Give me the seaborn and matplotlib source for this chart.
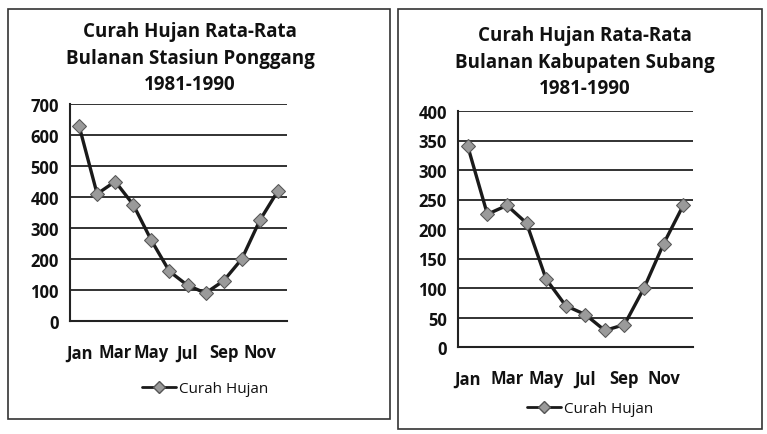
import pandas as pd
import matplotlib.pyplot as plt
import seaborn as sns
from matplotlib.patches import Rectangle
from matplotlib.lines import Line2D

bulan = ["Jan", "Feb", "Mar", "Apr", "May", "Jun",
         "Jul", "Aug", "Sep", "Oct", "Nov", "Dec"]
ponggang = [630, 410, 450, 375, 260, 160, 115, 90, 130, 200, 325, 420]
subang = [340, 225, 240, 210, 115, 70, 55, 28, 38, 100, 175, 240]

judul_kiri = "Curah Hujan Rata-Rata\nBulanan Stasiun Ponggang\n1981-1990"
judul_kanan = "Curah Hujan Rata-Rata\nBulanan Kabupaten Subang\n1981-1990"

sns.set_style("white")
plt.rcParams["font.family"] = ["Open Sans", "DejaVu Sans"]

fig = plt.figure(figsize=(7.67, 4.35), dpi=100)

# kotak luar tiap grafik
fig.patches.append(Rectangle((8 / 767, 1 - 420 / 435), 382 / 767, 410 / 435,
                             transform=fig.transFigure, fill=False,
                             edgecolor="#333333", linewidth=1.2))
fig.patches.append(Rectangle((398 / 767, 1 - 430 / 435), 364 / 767, 420 / 435,
                             transform=fig.transFigure, fill=False,
                             edgecolor="#333333", linewidth=1.2))


def gambar(ax, nilai, ymax, step, judul, tx, ty, lx, ly):
    df = pd.DataFrame({"bulan": bulan, "hujan": nilai})
    sns.lineplot(data=df, x="bulan", y="hujan", ax=ax, sort=False,
                 color="#1a1a1a", linewidth=2.4, marker="D", markersize=7.5,
                 markerfacecolor="#9a9a9a", markeredgecolor="#555555")
    ax.set_xlim(-0.5, 11.5)
    ax.set_ylim(0, ymax)
    ax.set_yticks(range(0, ymax + 1, step))
    ax.set_xticks(range(0, 12, 2))
    ax.set_xticklabels(bulan[::2])
    ax.set_xticks([i - 0.5 for i in range(13)], minor=True)
    ax.tick_params(axis="x", which="major", length=0, pad=16)
    ax.tick_params(axis="x", which="minor", length=5, width=1.3,
                   direction="out", color="#222222")
    ax.tick_params(axis="y", length=4, width=1.3, direction="out",
                   color="#222222", pad=4)
    for lbl in ax.get_xticklabels() + ax.get_yticklabels():
        lbl.set_fontsize(12)
        lbl.set_fontweight("bold")
        lbl.set_color("#111111")
    ax.grid(axis="y", color="#222222", linewidth=1.3)
    ax.set_axisbelow(True)
    for s in ["top", "right"]:
        ax.spines[s].set_visible(False)
    for s in ["left", "bottom"]:
        ax.spines[s].set_color("#222222")
        ax.spines[s].set_linewidth(1.5)
    ax.set_xlabel("")
    ax.set_ylabel("")
    fig.text(tx, ty, judul, ha="center", va="top", fontsize=13.5,
             fontweight="bold", color="#111111", linespacing=1.45)
    h = Line2D([], [], color="#1a1a1a", linewidth=2, marker="D",
               markersize=6, markerfacecolor="#9a9a9a",
               markeredgecolor="#555555")
    leg = fig.legend([h], ["Curah Hujan"], loc="center",
                     bbox_to_anchor=(lx, ly), frameon=False, fontsize=11,
                     handlelength=2.2, handletextpad=0.2)
    for t in leg.get_texts():
        t.set_color("#111111")


ax1 = fig.add_axes([70 / 767, 1 - 322 / 435, 217 / 767, 217 / 435])
ax2 = fig.add_axes([458 / 767, 1 - 348 / 435, 235 / 767, 236 / 435])

gambar(ax1, ponggang, 700, 100, judul_kiri, 190 / 767, 1 - 22 / 435,
       205 / 767, 1 - 390 / 435)
gambar(ax2, subang, 400, 50, judul_kanan, 585 / 767, 1 - 26 / 435,
       590 / 767, 1 - 410 / 435)

fig.savefig("out.png", dpi=100)
